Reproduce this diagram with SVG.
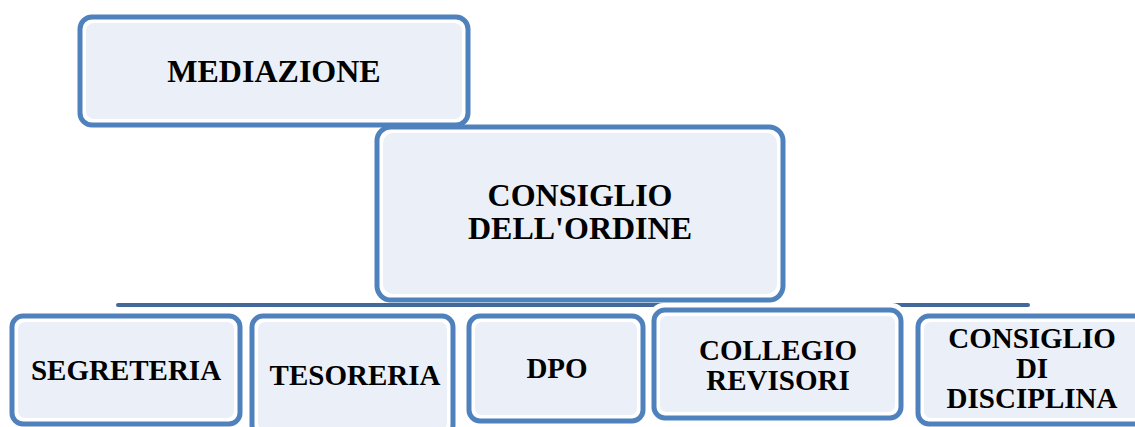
<svg xmlns="http://www.w3.org/2000/svg" width="1135" height="427" viewBox="0 0 1135 427">
<style>
.o{fill:#ffffff;stroke:#4f81bd;stroke-width:5}
.i{fill:#ebf0f8;stroke:#ffffff;stroke-width:2}
.t{font-family:"Liberation Serif","Times New Roman",serif;font-weight:bold;fill:#000;text-anchor:middle}
.big{font-size:32px}
.sm{font-size:29px}
</style>
<rect width="1135" height="427" fill="#ffffff"/>
<g id="connectors">
<line x1="118" y1="305" x2="1028" y2="305" stroke="#43699b" stroke-width="4" stroke-linecap="round"/>
</g>
<g id="mediazione">
<rect class="o" x="80" y="17" width="388" height="108" rx="12"/>
<rect class="i" x="85" y="22" width="378" height="98" rx="9"/>
<text class="t big" x="274" y="82">MEDIAZIONE</text>
</g>
<g id="consiglio-ordine">
<rect class="o" x="377" y="127" width="406" height="173" rx="14"/>
<rect class="i" x="382" y="132" width="396" height="163" rx="11"/>
<text class="t big" x="580" y="206">CONSIGLIO</text>
<text class="t big" x="580" y="239">DELL'ORDINE</text>
</g>
<g id="segreteria">
<rect class="o" x="12" y="316" width="228" height="108" rx="11"/>
<rect class="i" x="17" y="321" width="218" height="98" rx="8"/>
<text class="t sm" x="126" y="380">SEGRETERIA</text>
</g>
<g id="tesoreria">
<rect class="o" x="252" y="316" width="201" height="120" rx="11"/>
<rect class="i" x="257" y="321" width="191" height="110" rx="8"/>
<text class="t sm" x="355" y="385">TESORERIA</text>
</g>
<g id="dpo">
<rect class="o" x="469" y="316" width="174" height="105" rx="11"/>
<rect class="i" x="474" y="321" width="164" height="95" rx="8"/>
<text class="t sm" x="557" y="378">DPO</text>
</g>
<g id="collegio-revisori">
<rect x="650" y="303" width="255" height="120" rx="13" fill="#ffffff"/>
<rect class="o" x="654" y="310" width="247" height="108" rx="11"/>
<rect class="i" x="659" y="315" width="237" height="98" rx="8"/>
<text class="t sm" x="778" y="360">COLLEGIO</text>
<text class="t sm" x="778" y="390">REVISORI</text>
</g>
<g id="consiglio-disciplina">
<rect class="o" x="918" y="316" width="230" height="108" rx="11"/>
<rect class="i" x="923" y="321" width="220" height="98" rx="8"/>
<text class="t sm" x="1032" y="348">CONSIGLIO</text>
<text class="t sm" x="1032" y="378">DI</text>
<text class="t sm" x="1032" y="408">DISCIPLINA</text>
</g>
</svg>
